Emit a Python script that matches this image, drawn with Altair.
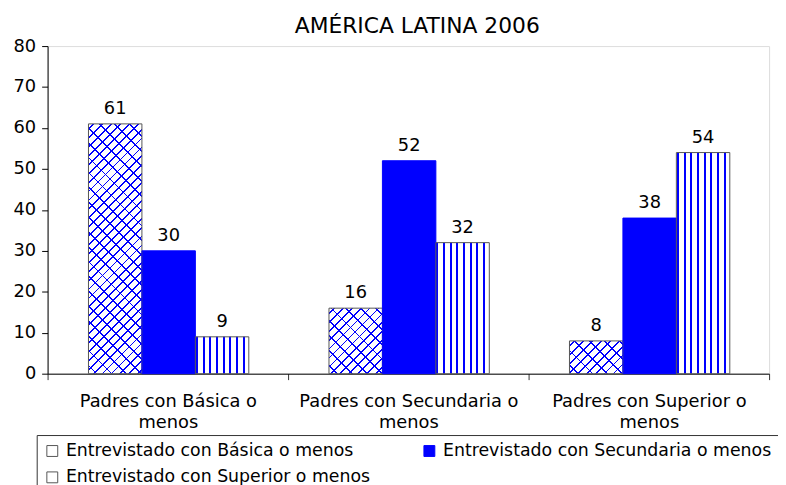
import altair as alt
import pandas as pd

# ---------------- data ----------------
chart_title = "AMÉRICA LATINA 2006"
groups = [
    "Padres con Básica o menos",
    "Padres con Secundaria o menos",
    "Padres con Superior o menos",
]
series = [
    "Entrevistado con Básica o menos",
    "Entrevistado con Secundaria o menos",
    "Entrevistado con Superior o menos",
]
basica = [61, 16, 8]
secundaria = [30, 52, 38]
superior = [9, 32, 54]
y_ticks = [0, 10, 20, 30, 40, 50, 60, 70, 80]

rows = []
for s, vals in zip(series, [basica, secundaria, superior]):
    for g, v in zip(groups, vals):
        rows.append({"grupo": g, "serie": s, "valor": v})
df = pd.DataFrame(rows)

# ---------------- style ----------------
FONT = "DejaVu Sans"
BLUE = "#0000FF"
CLEAR = "rgba(255,255,255,0)"
W, H = 729, 331
YMAX = 80
OUTER = 0.75
BAR_W = (W / len(groups)) / (len(series) + 2 * OUTER)

x_enc = alt.X(
    "grupo:N", sort=groups,
    scale=alt.Scale(domain=groups, paddingInner=0, paddingOuter=0),
    axis=alt.Axis(
        title=None, labelAngle=0, labelFont=FONT, labelFontSize=18,
        labelColor="black", labelPadding=13, labelLineHeight=21,
        labelExpr="indexof(datum.label, 'Padres') >= 0 ? "
                  "[substring(datum.label, 0, length(datum.label) - 6), 'menos'] : ''",
        tickBand="extent", tickSize=6, tickColor="#333", domainColor="black",
        labelLimit=400,
    ),
)
xo_enc = alt.XOffset(
    "serie:N", sort=series,
    scale=alt.Scale(domain=series, paddingInner=0, paddingOuter=OUTER, align=0.51),
)
y_enc = alt.Y(
    "valor:Q",
    scale=alt.Scale(domain=[0, YMAX], nice=False),
    axis=alt.Axis(
        title=None, values=y_ticks, grid=False, labelFont=FONT,
        labelFontSize=18, labelColor="black", tickSize=6, labelPadding=6,
        tickColor="black", domainColor="black",
    ),
)


def stops_for(length, period, lw, phase=0.0):
    st = []
    pos = phase
    while pos < length:
        a = max(pos / length, 0)
        b = min((pos + lw) / length, 1)
        st += [
            alt.GradientStop(color=CLEAR, offset=a),
            alt.GradientStop(color=BLUE, offset=a),
            alt.GradientStop(color=BLUE, offset=b),
            alt.GradientStop(color=CLEAR, offset=b),
        ]
        pos += period
    return st


def diag_gradient(w, h, period, lw, up=True):
    L = w + h
    s = (w * w + h * h) / L
    st = stops_for(L, period, lw, phase=period / 2)
    if up:
        return alt.LinearGradient(gradient="linear", stops=st,
                                  x1=0, y1=0, x2=w / s, y2=h / s)
    return alt.LinearGradient(gradient="linear", stops=st,
                              x1=0, y1=1, x2=w / s, y2=1 - h / s)


stripe_grad = alt.LinearGradient(
    gradient="linear", x1=0, y1=0, x2=1, y2=0,
    stops=stops_for(BAR_W, BAR_W / 8, 2.0, phase=0.5),
)

base = alt.Chart(df)

fill_layer = base.mark_bar(strokeWidth=0).encode(
    x=x_enc, xOffset=xo_enc, y=y_enc,
    color=alt.Color(
        "serie:N", sort=series,
        scale=alt.Scale(domain=series, range=["white", BLUE, "white"]),
        legend=alt.Legend(
            title=None, orient="none", legendX=-11, legendY=393,
            direction="horizontal", columns=2, columnPadding=51, rowPadding=8,
            labelFont=FONT, labelFontSize=17.5, labelColor="black",
            labelLimit=500, labelOffset=5,
            symbolType="square", symbolSize=121,
            symbolStrokeColor="#333", symbolStrokeWidth=1,
            strokeColor="#333", padding=7,
        ),
    ),
)

layers = [fill_layer]

# vertical stripes
layers.append(
    base.transform_filter(alt.datum.serie == series[2])
    .mark_bar(fill=stripe_grad, strokeWidth=0)
    .encode(x=x_enc, xOffset=xo_enc, y=y_enc)
)

# diagonal lattice
for g, v in zip(groups, basica):
    h = v * H / YMAX
    for up, per in [(True, 9.0), (False, 15.0)]:
        layers.append(
            base.transform_filter(
                (alt.datum.serie == series[0]) & (alt.datum.grupo == g)
            )
            .mark_bar(fill=diag_gradient(BAR_W, h, per, 1.8, up), strokeWidth=0)
            .encode(x=x_enc, xOffset=xo_enc, y=y_enc)
        )

# outlines
layers.append(
    base.mark_bar(fillOpacity=0, strokeWidth=1).encode(
        x=x_enc, xOffset=xo_enc, y=y_enc,
        stroke=alt.Stroke(
            "serie:N", sort=series,
            scale=alt.Scale(domain=series, range=["#555", BLUE, "#555"]),
            legend=None,
        ),
    )
)

# value labels
layers.append(
    base.mark_text(dy=-10, baseline="alphabetic", font=FONT, fontSize=18,
                   color="black").encode(
        x=x_enc, xOffset=xo_enc, y=y_enc, text="valor:Q"
    )
)

chart = (
    alt.layer(*layers)
    .properties(
        width=W, height=H,
        title=alt.Title(chart_title, font=FONT, fontSize=22,
                        fontWeight="normal", color="black", offset=-1, dx=9),
        autosize=alt.AutoSizeParams(type="none"),
        padding={"left": 40, "top": 36, "right": 9, "bottom": 110},
    )
    .configure_view(stroke="#666", strokeWidth=1)
    .configure(background="white")
)

chart.save("out.html", embed_options={"renderer": "svg", "actions": False})
